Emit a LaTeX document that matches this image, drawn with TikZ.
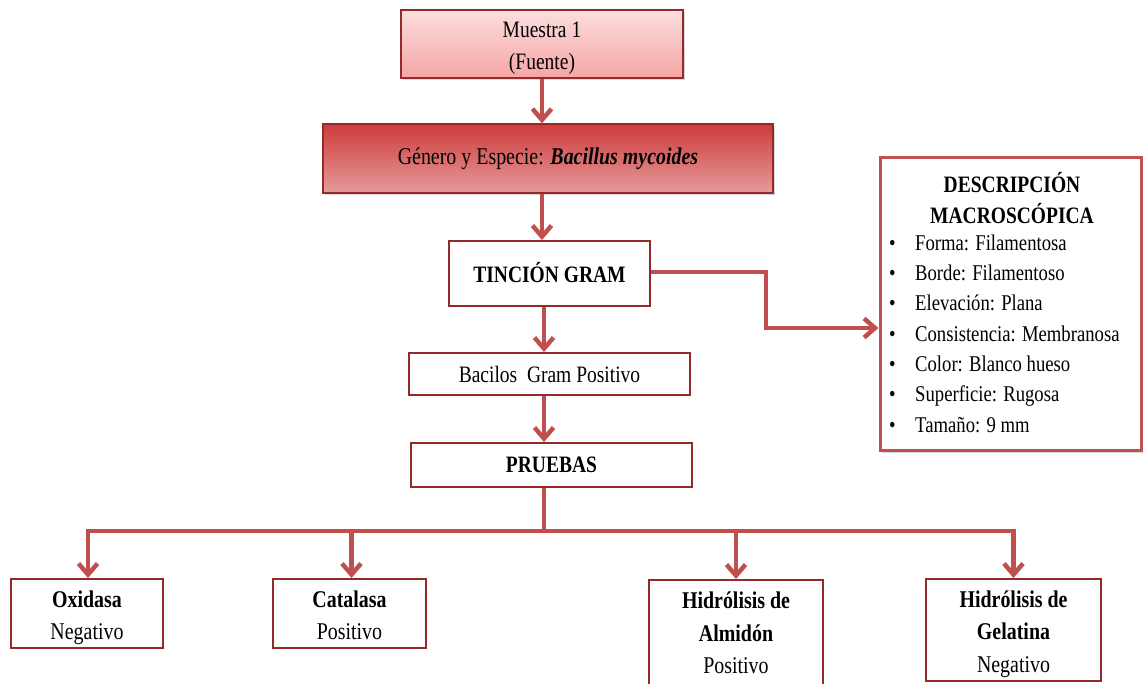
\documentclass[tikz,border=0pt]{standalone}
\usepackage{fontspec}
\setmainfont{Liberation Serif}[FakeStretch=0.83]
\usetikzlibrary{arrows.meta,shadows,calc}

\definecolor{arrowred}{RGB}{192,80,77}
\definecolor{edgered}{RGB}{148,42,42}
\definecolor{pinktop}{RGB}{252,222,222}
\definecolor{pinkbot}{RGB}{245,165,165}
\definecolor{redtop}{RGB}{206,60,60}
\definecolor{redbot}{RGB}{230,155,155}

\newcommand\mainsize{\fontsize{23.5}{31.5}\selectfont}
\newcommand\headsize{\fontsize{23.5}{31}\selectfont}
\newcommand\listsize{\fontsize{22.5}{30.33}\selectfont}
\newcommand\lowsize{\fontsize{24}{32.5}\selectfont}
% line strut: 0.8 of the leading above the baseline, 0.2 below
\newcommand\ls{\rule[-0.2\baselineskip]{0pt}{\baselineskip}}

\tikzset{
  box/.style={draw=edgered, line width=2pt, fill=white, inner sep=0pt,
    align=center, font=\mainsize},
  pinkbox/.style={box, line width=1.4pt, top color=pinktop, bottom color=pinkbot,
    drop shadow={shadow xshift=2pt, shadow yshift=-2pt, opacity=.3, fill=gray}},
  redbox/.style={box, line width=1.4pt, top color=redtop, bottom color=redbot,
    drop shadow={shadow xshift=2pt, shadow yshift=-2pt, opacity=.3, fill=gray}},
  testbox/.style={box, font=\lowsize},
  descbox/.style={draw=arrowred, line width=3pt, fill=white, inner sep=0pt,
    drop shadow={shadow xshift=2pt, shadow yshift=-2pt, opacity=.3, fill=gray}},
  link/.style={draw=arrowred, line width=4.5pt},
  arr/.style={link, -{Straight Barb[length=11pt,width=19pt]}},
}

\begin{document}
\begin{tikzpicture}[x=1pt,y=-1pt]
\useasboundingbox (0,0) rectangle (1144,684);
\clip (0,0) rectangle (1144,684);

% main column
\node[pinkbox, minimum width=282pt, minimum height=68pt] (mu) at (542,44)
  {Muestra 1\ls\\(Fuente)\ls};
\node[redbox, font=\lowsize, minimum width=450pt, minimum height=69pt] (ge) at (548,158.5)
  {Género y Especie: \textbf{\textit{Bacillus mycoides}}};
\node[box, font=\mainsize\bfseries, minimum width=201pt, minimum height=65pt] (tg) at (549.5,273.5)
  {\raisebox{2pt}{TINCIÓN GRAM}};
\node[box, minimum width=281pt, minimum height=42pt] (ba) at (549.5,374)
  {Bacilos\ \ Gram Positivo};
\node[box, font=\mainsize\bfseries, minimum width=281pt, minimum height=44pt] (pr) at (551.5,465)
  {PRUEBAS};

% colony description
\node[descbox, minimum width=261pt, minimum height=293pt] (desc) at (1010.5,304.5) {};
\node[align=center, inner sep=0pt, font=\headsize\bfseries] (dh) at (1012,198.3)
  {DESCRIPCIÓN\ls\\MACROSCÓPICA\ls};
\node[align=left, inner sep=0pt, font=\listsize, anchor=north west] (dl) at (889,225.8)
  {\makebox[26pt][l]{•}Forma: Filamentosa\ls\\
   \makebox[26pt][l]{•}Borde: Filamentoso\ls\\
   \makebox[26pt][l]{•}Elevación: Plana\ls\\
   \makebox[26pt][l]{•}Consistencia: Membranosa\ls\\
   \makebox[26pt][l]{•}Color: Blanco hueso\ls\\
   \makebox[26pt][l]{•}Superficie: Rugosa\ls\\
   \makebox[26pt][l]{•}Tamaño: 9 mm\ls};

% tests
\node[testbox, minimum width=152pt, minimum height=69pt] (ox) at (87,613.5)
  {\textbf{Oxidasa}\ls\\Negativo\ls};
\node[testbox, minimum width=153pt, minimum height=69pt] (ca) at (349.5,613.5)
  {\textbf{Catalasa}\ls\\Positivo\ls};
\node[testbox, minimum width=174pt, anchor=north, inner ysep=2.5pt] (al) at (736,579)
  {\textbf{Hidrólisis de}\ls\\\textbf{Almidón}\ls\\Positivo\ls\rule[-60pt]{0pt}{60pt}};
\node[testbox, minimum width=175pt, minimum height=102pt] (gl) at (1013.5,630)
  {\textbf{Hidrólisis de}\ls\\\textbf{Gelatina}\ls\\Negativo\ls};

% connectors
\coordinate (col) at (544,0);
\coordinate (bus) at (544,531);
\coordinate (bend) at (766,328);
\draw[arr] (mu.south) -- (mu.south |- ge.north);
\draw[arr] (ge.south -| mu.south) -- (mu.south |- tg.north);
\draw[arr] (tg.south -| col) -- (col |- ba.north);
\draw[arr] (ba.south -| col) -- (col |- pr.north);
\draw[link] (pr.south -| col) -- (bus);
\draw[arr] (bus) -| ([xshift=1pt]ox.north);
\draw[arr] (bus) -| ([xshift=2pt]ca.north);
\draw[arr] (bus) -| (al.north);
\draw[arr] (bus) -| (gl.north);
\draw[arr] ([yshift=1.5pt]tg.east) -| (bend) -- (bend -| desc.west);
\end{tikzpicture}
\end{document}
